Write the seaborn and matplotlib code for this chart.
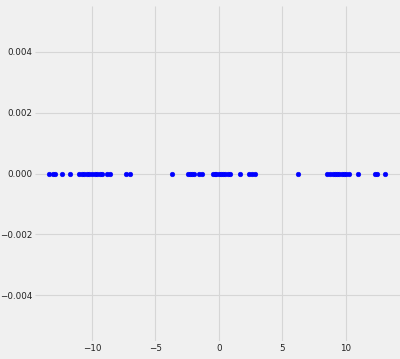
import matplotlib
matplotlib.use("Agg")
import matplotlib.pyplot as plt
import seaborn as sns
import numpy as np
import pandas as pd

x_values = [-13.4, -13.1, -12.9, -12.4, -11.7, -11.0, -10.8, -10.6, -10.4, -10.2,
            -10.0, -9.8, -9.6, -9.4, -9.2, -8.8, -8.6, -7.3, -7.0,
            -3.7, -2.4, -2.3, -2.1, -1.95, -1.55, -1.35, -0.45, -0.3, -0.2, 0.0,
            0.15, 0.35, 0.5, 0.7, 0.9, 1.65, 2.35, 2.6, 2.85,
            6.25, 8.55, 8.8, 9.0, 9.2, 9.35, 9.5, 9.7, 9.9, 10.05, 10.25, 11.0,
            12.35, 12.45, 13.1]
y_values = [0.0] * len(x_values)

df = pd.DataFrame({"x": x_values, "y": y_values})

plt.style.use("fivethirtyeight")
fig = plt.figure(figsize=(4.0, 3.59), dpi=100)
fig.patch.set_facecolor("#f0f0f0")
ax = fig.add_axes([35 / 400, (359 - 341) / 359, 1 - 35 / 400, (341 - 6) / 359])
ax.set_facecolor("#f0f0f0")

sns.scatterplot(data=df, x="x", y="y", ax=ax, color="#0000ff", s=11,
                edgecolor="#0000ff", linewidth=0.4, zorder=3)

ax.set_xlim(-14.5, 14.3)
ax.set_ylim(-0.0055, 0.0055)
ax.set_xticks([-10, -5, 0, 5, 10])
ax.set_yticks([-0.004, -0.002, 0.0, 0.002, 0.004])
ax.set_yticklabels(["\u22120.004", "\u22120.002", "0.000", "0.002", "0.004"])
ax.set_xlabel("")
ax.set_ylabel("")
ax.grid(True, color="#d6d6d6", linewidth=0.8)
ax.tick_params(labelsize=6.3, length=0, pad=2, colors="#222222")
for s in ax.spines.values():
    s.set_visible(False)

fig.savefig("out.png", dpi=100, facecolor=fig.get_facecolor())
